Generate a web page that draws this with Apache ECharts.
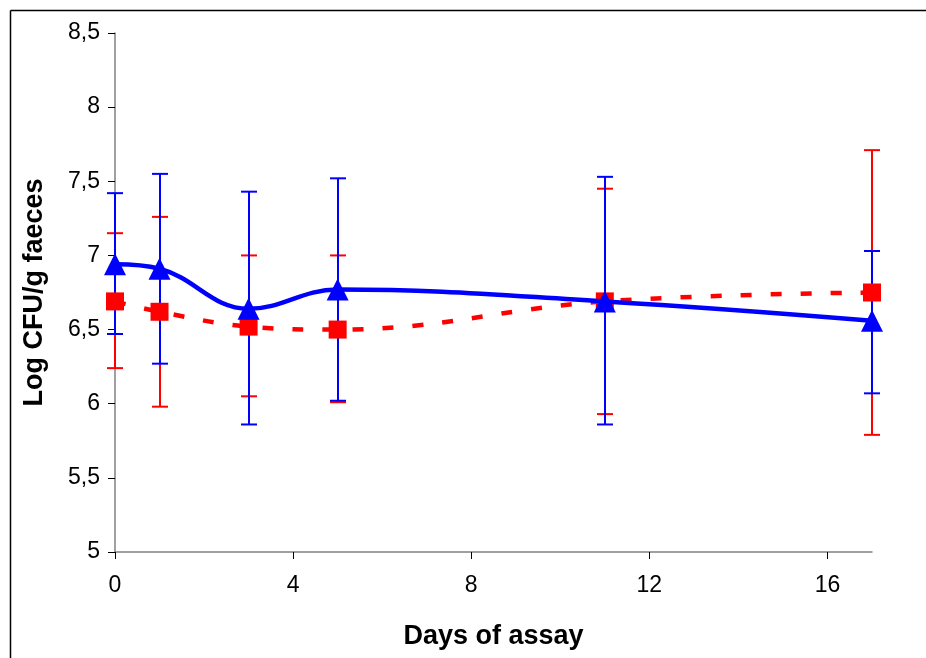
<!DOCTYPE html>
<html>
<head>
<meta charset="utf-8">
<script src="https://cdn.jsdelivr.net/npm/echarts@6/dist/echarts.min.js"></script>
<style>
html,body{margin:0;padding:0;background:#fff;}
#main{width:926px;height:658px;}
</style>
</head>
<body>
<div id="main"></div>
<script>
// days of the assay
var days = [0, 1, 3, 5, 11, 17];

// blue series (triangles)
var blueMean = [6.94, 6.91, 6.64, 6.77, 6.69, 6.56];
var blueLow  = [6.47, 6.27, 5.86, 6.02, 5.86, 6.07];
var blueHigh = [7.42, 7.55, 7.43, 7.52, 7.53, 7.03];

// red series (squares)
var redMean = [6.69, 6.62, 6.52, 6.50, 6.69, 6.75];
var redLow  = [6.24, 5.98, 6.05, 6.01, 5.93, 5.79];
var redHigh = [7.15, 7.26, 7.00, 7.00, 7.45, 7.71];

var xTicks = [0, 4, 8, 12, 16];
var yTicks = [5, 5.5, 6, 6.5, 7, 7.5, 8, 8.5];

function pairs(xs, ys){
	var out = [];
	for (var i = 0; i < xs.length; i++) out.push([xs[i], ys[i]]);
	return out;
}
function bars(xs, lo, hi){
	var out = [];
	for (var i = 0; i < xs.length; i++) out.push([xs[i], lo[i], hi[i]]);
	return out;
}

function errorBar(color){
	return function(params, api){
		var x = api.value(0);
		var top = api.coord([x, api.value(2)]);
		var bot = api.coord([x, api.value(1)]);
		var px = Math.round(top[0]);
		var w = 8;
		var st = {stroke: color, lineWidth: 2};
		return {
			type: 'group',
			children: [
				{type: 'line', shape: {x1: px, y1: top[1], x2: px, y2: bot[1]}, style: st},
				{type: 'line', shape: {x1: px - w, y1: top[1], x2: px + w, y2: top[1]}, style: st},
				{type: 'line', shape: {x1: px - w, y1: bot[1], x2: px + w, y2: bot[1]}, style: st}
			]
		};
	};
}

var font = '"Liberation Sans", Arial, sans-serif';
var chart = echarts.init(document.getElementById('main'));

var option = {
	animation: false,
	backgroundColor: '#fff',
	grid: {left: 115, right: 54, top: 33, bottom: 106},
	graphic: [
		{type: 'line', shape: {x1: 10.5, y1: 10.5, x2: 926, y2: 10.5}, style: {stroke: '#000', lineWidth: 1.5}},
		{type: 'line', shape: {x1: 10.5, y1: 10.5, x2: 10.5, y2: 658}, style: {stroke: '#000', lineWidth: 1.5}}
	],
	xAxis: {
		type: 'value',
		min: 0, max: 17, interval: 4,
		name: 'Days of assay',
		nameLocation: 'middle',
		nameGap: 71,
		nameTextStyle: {fontFamily: font, fontSize: 27, fontWeight: 'bold', color: '#000'},
		axisLine: {show: true, lineStyle: {color: '#808080', width: 1.5}},
		axisTick: {show: true, length: 7, customValues: xTicks, lineStyle: {color: '#000'}},
		axisLabel: {
			margin: 22, fontFamily: font, fontSize: 23, color: '#000',
			customValues: xTicks
		},
		splitLine: {show: false}
	},
	yAxis: {
		type: 'value',
		min: 5, max: 8.5, interval: 0.5,
		name: 'Log CFU/g faeces',
		nameLocation: 'middle',
		nameGap: 67,
		nameTextStyle: {fontFamily: font, fontSize: 27, fontWeight: 'bold', color: '#000'},
		axisLine: {show: true, lineStyle: {color: '#808080', width: 1.5}},
		axisTick: {show: true, length: 7, lineStyle: {color: '#000'}},
		axisLabel: {
			margin: 15, fontFamily: font, fontSize: 23, color: '#000',
			formatter: function(v){ return yTicks.indexOf(v) >= 0 ? String(v).replace('.', ',') : ''; }
		},
		splitLine: {show: false}
	},
	series: [
		{
			type: 'custom', name: 'redErr', z: 1,
			renderItem: errorBar('#ff0000'),
			data: bars(days, redLow, redHigh)
		},
		{
			type: 'custom', name: 'blueErr', z: 2,
			renderItem: errorBar('#0000ff'),
			data: bars(days, blueLow, blueHigh)
		},
		{
			type: 'line', name: 'red', z: 3,
			data: pairs(days, redMean),
			smooth: 0.4,
			symbol: 'rect', symbolSize: 18,
			itemStyle: {color: '#ff0000'},
			lineStyle: {color: '#ff0000', width: 4.5, type: [11, 19]}
		},
		{
			type: 'line', name: 'blue', z: 4,
			data: pairs(days, blueMean),
			smooth: 0.4,
			symbol: 'triangle', symbolSize: 22,
			itemStyle: {color: '#0000ff'},
			lineStyle: {color: '#0000ff', width: 4.5}
		}
	]
};
chart.setOption(option);
</script>
</body>
</html>
